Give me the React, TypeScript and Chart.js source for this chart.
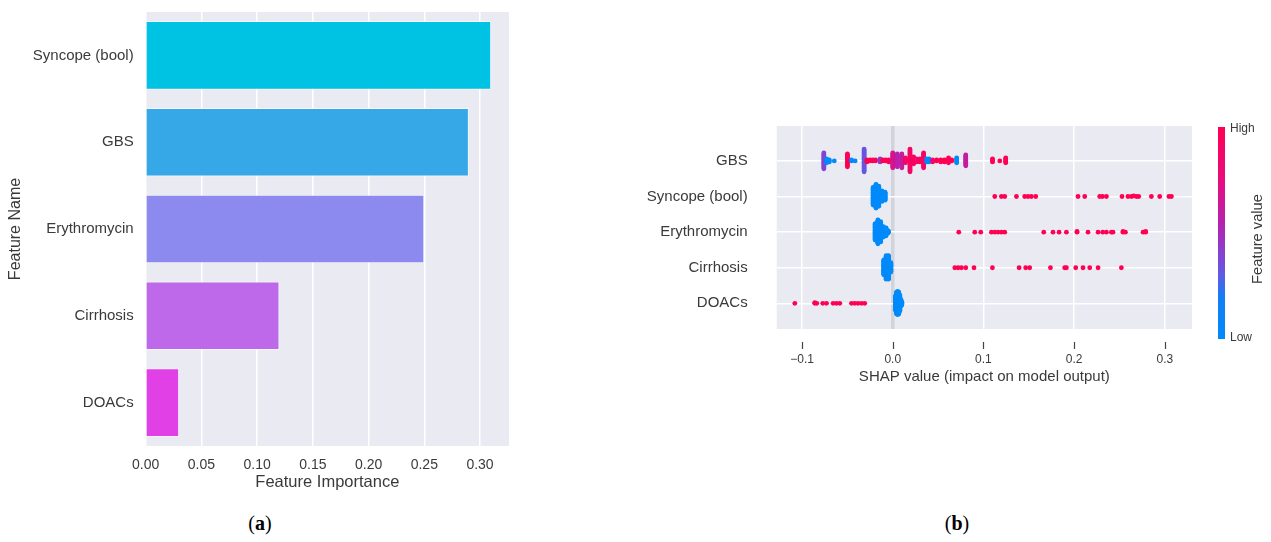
import { useEffect, useRef } from "react";
import { Chart, registerables } from "chart.js";

Chart.register(...registerables);

// ---- Panel (a): feature importance ----
const importanceFeatures = ["Syncope (bool)", "GBS", "Erythromycin", "Cirrhosis", "DOACs"];
const importanceValues = [0.31, 0.29, 0.25, 0.12, 0.03];
const importanceColors = ["#00C3E3", "#36A8E7", "#8C8AEE", "#BD69E9", "#E040E6"];
const importanceTicks = [0, 0.05, 0.1, 0.15, 0.2, 0.25, 0.3];

// ---- Panel (b): SHAP summary, rows listed bottom (0) to top (4) ----
const shapFeatures = ["DOACs", "Cirrhosis", "Erythromycin", "Syncope (bool)", "GBS"];
const shapTicks = [-0.1, 0, 0.1, 0.2, 0.3];

// Each entry: [SHAP value, number of samples, normalised feature value (0 low, 1 high)]
type Cluster = [number, number, number];

const gbsPoints: Cluster[] = [
  [-0.076, 17, 0.4], [-0.073, 5, 0.02], [-0.07, 3, 0.02], [-0.0645, 1, 0.02],
  [-0.05, 14, 0.98], [-0.0455, 2, 0.02], [-0.0415, 1, 0.02],
  [-0.0316, 24, 0.32], [-0.0285, 3, 1], [-0.025, 2, 1], [-0.022, 2, 1], [-0.019, 2, 0.95],
  [-0.014, 4, 0.45], [-0.011, 2, 1], [-0.0078, 2, 1], [-0.0045, 3, 0.95],
  [0.0, 16, 0.68], [0.005, 14, 0.55], [0.01, 15, 0.6], [0.014, 6, 0.9],
  [0.019, 24, 0.9], [0.023, 8, 0.95], [0.0265, 4, 0.85], [0.03, 4, 1],
  [0.034, 16, 0.88], [0.0375, 4, 0.02], [0.04, 4, 0.02], [0.044, 3, 0.85],
  [0.0485, 2, 1], [0.053, 3, 1], [0.057, 3, 1], [0.0615, 6, 1], [0.065, 2, 1],
  [0.0705, 6, 0.02], [0.0805, 12, 0.6],
  [0.11, 4, 1], [0.118, 1, 1], [0.1246, 6, 1],
];

const syncopePoints: Cluster[] = [
  [-0.0216, 30, 0], [-0.0185, 40, 0], [-0.0155, 34, 0], [-0.012, 18, 0], [-0.0085, 14, 0],
  [0.1125, 1, 1], [0.1198, 1, 1], [0.1235, 1, 1], [0.1364, 1, 1], [0.1455, 1, 1],
  [0.1492, 1, 1], [0.1529, 1, 1], [0.1577, 1, 1], [0.2043, 1, 1], [0.2117, 1, 1],
  [0.2282, 1, 1], [0.2312, 1, 1], [0.2356, 1, 1], [0.2528, 1, 1], [0.2594, 1, 1],
  [0.2632, 1, 1], [0.2657, 1, 1], [0.2687, 1, 1], [0.2712, 1, 1], [0.2852, 1, 1],
  [0.2944, 1, 1], [0.3046, 1, 1], [0.3073, 1, 1],
];

const erythromycinPoints: Cluster[] = [
  [-0.0194, 28, 0], [-0.0164, 40, 0], [-0.0134, 34, 0], [-0.0104, 18, 0], [-0.0074, 14, 0], [-0.0049, 4, 0],
  [0.0728, 1, 1], [0.0904, 1, 1], [0.097, 1, 1], [0.1088, 1, 1], [0.1125, 1, 1],
  [0.1161, 1, 1], [0.1198, 1, 1], [0.1235, 1, 1], [0.1665, 1, 1], [0.1767, 1, 1],
  [0.1834, 1, 1], [0.1915, 1, 1], [0.2032, 2, 1], [0.2153, 1, 1], [0.2264, 1, 1],
  [0.2315, 1, 1], [0.2356, 1, 1], [0.2411, 1, 1], [0.2429, 1, 1], [0.2539, 2, 1],
  [0.2566, 1, 1], [0.276, 1, 1], [0.2789, 2, 1],
];

const cirrhosisPoints: Cluster[] = [
  [-0.0099, 22, 0], [-0.0073, 34, 0], [-0.0047, 34, 0], [-0.0021, 14, 0],
  [0.0684, 1, 1], [0.072, 1, 1], [0.0757, 1, 1], [0.0805, 1, 1], [0.0896, 1, 1],
  [0.1099, 1, 1], [0.1393, 1, 1], [0.1466, 1, 1], [0.151, 1, 1], [0.1739, 1, 1],
  [0.1896, 1, 1], [0.1915, 1, 1], [0.2018, 1, 1], [0.2098, 1, 1], [0.2172, 1, 1],
  [0.2264, 1, 1], [0.2521, 1, 1],
];

const doacsPoints: Cluster[] = [
  [-0.108, 1, 1], [-0.086, 2, 1], [-0.0838, 1, 1], [-0.0772, 1, 1], [-0.0731, 1, 1],
  [-0.0658, 1, 1], [-0.0621, 1, 1], [-0.0584, 1, 1], [-0.0455, 1, 1], [-0.0419, 1, 1],
  [-0.0383, 1, 1], [-0.0345, 1, 1], [-0.0309, 1, 1],
  [0.003, 20, 0], [0.0042, 30, 0], [0.0054, 32, 0], [0.0066, 30, 0], [0.0078, 22, 0],
  [0.009, 10, 0], [0.01, 5, 0],
];

const shapRows: Cluster[][] = [doacsPoints, cirrhosisPoints, erythromycinPoints, syncopePoints, gbsPoints];

// ---- Styling ----
const FONT = "'Liberation Sans', Arial, Helvetica, sans-serif";
const TEXT = "#3a3a3a";
const PANEL_BG = "#EAEAF2";

// blue -> purple -> red colour map for feature values
const CMAP_STOPS: [number, [number, number, number]][] = [
  [0, [0, 138, 250]],
  [0.2, [20, 126, 245]],
  [0.3, [95, 90, 228]],
  [0.42, [140, 62, 205]],
  [0.56, [186, 32, 170]],
  [0.75, [232, 12, 125]],
  [1, [255, 0, 82]],
];

function featureColor(t: number): string {
  for (let i = 1; i < CMAP_STOPS.length; i++) {
    const [t1, c1] = CMAP_STOPS[i];
    const [t0, c0] = CMAP_STOPS[i - 1];
    if (t <= t1) {
      const f = (t - t0) / (t1 - t0 || 1);
      const c = c0.map((v, k) => Math.round(v + (c1[k] - v) * f));
      return `rgb(${c[0]},${c[1]},${c[2]})`;
    }
  }
  const c = CMAP_STOPS[CMAP_STOPS.length - 1][1];
  return `rgb(${c[0]},${c[1]},${c[2]})`;
}

// Beeswarm layout: quantise SHAP values into bins and stack samples alternately above/below the row
function beeswarm(clusters: Cluster[], row: number) {
  const pts: { x: number; c: number }[] = [];
  clusters.forEach(([x, n, c]) => {
    for (let i = 0; i < n; i++) pts.push({ x, c });
  });
  const xs = pts.map((p) => p.x);
  const lo = Math.min(...xs);
  const hi = Math.max(...xs);
  const nbins = 100;
  const quant = pts.map((p) => Math.round((nbins * (p.x - lo)) / (hi - lo + 1e-8)));
  const order = pts.map((_, i) => i).sort((a, b) => quant[a] - quant[b] || a - b);
  const ys = new Array(pts.length).fill(0);
  let layer = 0;
  let last = -1;
  for (const i of order) {
    if (quant[i] !== last) layer = 0;
    ys[i] = Math.ceil(layer / 2) * ((layer % 2) * 2 - 1);
    layer++;
    last = quant[i];
  }
  const maxY = Math.max(...ys.map((y) => y + 1));
  const k = (0.9 * 0.4) / maxY;
  return pts.map((p, i) => ({ x: p.x, y: row + ys[i] * k, c: p.c }));
}

// keep axis boxes at fixed sizes without extra label padding
function fixBox(size: { width?: number; height?: number }) {
  return (s: any) => {
    if (size.width !== undefined) s.width = size.width;
    if (size.height !== undefined) s.height = size.height;
    s.paddingTop = 0;
    s.paddingBottom = 0;
    s.paddingLeft = 0;
    s.paddingRight = 0;
  };
}

const panelBackground = {
  id: "panelBackground",
  beforeDraw(chart: any) {
    const { ctx, chartArea: a } = chart;
    ctx.save();
    ctx.fillStyle = PANEL_BG;
    ctx.fillRect(a.left, a.top, a.right - a.left, a.bottom - a.top);
    ctx.restore();
  },
};

const shapDecorations = {
  id: "shapDecorations",
  afterDraw(chart: any) {
    const { ctx, chartArea: a } = chart;
    const xScale = chart.scales.x;
    ctx.save();
    // x tick marks
    ctx.strokeStyle = "#444";
    ctx.lineWidth = 1.2;
    shapTicks.forEach((v) => {
      const px = Math.round(xScale.getPixelForValue(v)) + 0.5;
      ctx.beginPath();
      ctx.moveTo(px, a.bottom + 13);
      ctx.lineTo(px, a.bottom + 20);
      ctx.stroke();
    });
    // colour bar
    const barX = a.right + 26;
    const barW = 7;
    const barTop = a.top + 1;
    const barBottom = a.bottom + 10;
    const g = ctx.createLinearGradient(0, barBottom, 0, barTop);
    CMAP_STOPS.forEach(([t, c]) => g.addColorStop(t, `rgb(${c[0]},${c[1]},${c[2]})`));
    ctx.fillStyle = g;
    ctx.fillRect(barX, barTop, barW, barBottom - barTop);
    ctx.fillStyle = TEXT;
    ctx.font = `12px ${FONT}`;
    ctx.textAlign = "left";
    ctx.textBaseline = "middle";
    ctx.fillText("High", barX + 12, barTop + 2);
    ctx.fillText("Low", barX + 12, barBottom - 1);
    ctx.font = `14.7px ${FONT}`;
    ctx.translate(barX + 40, (barTop + barBottom) / 2 + 6);
    ctx.rotate(-Math.PI / 2);
    ctx.textAlign = "center";
    ctx.fillText("Feature value", 0, 0);
    ctx.restore();
  },
};

function ImportanceChart() {
  const ref = useRef<HTMLCanvasElement>(null);
  useEffect(() => {
    const chart = new Chart(ref.current!, {
      type: "bar",
      data: {
        labels: importanceFeatures,
        datasets: [
          {
            data: importanceValues,
            backgroundColor: importanceColors,
            borderColor: "rgba(255,255,255,0.55)",
            borderWidth: 1,
            barPercentage: 0.79,
            categoryPercentage: 1,
          },
        ],
      },
      options: {
        indexAxis: "y",
        responsive: false,
        animation: false,
        events: [],
        layout: { padding: { left: 0, top: 12, right: 11, bottom: 8 } },
        plugins: { legend: { display: false }, tooltip: { enabled: false } },
        scales: {
          x: {
            type: "linear",
            min: 0,
            max: 0.326,
            afterBuildTicks: (s: any) => {
              s.ticks = importanceTicks.map((v) => ({ value: v }));
            },
            afterFit: fixBox({ height: 46 }),
            ticks: {
              padding: 11,
              color: TEXT,
              font: { family: FONT, size: 14 },
              callback: (v: any) => Number(v).toFixed(2),
            },
            grid: { color: "#ffffff", lineWidth: 1.5, drawTicks: false },
            border: { display: false },
            title: {
              display: true,
              text: "Feature Importance",
              color: TEXT,
              font: { family: FONT, size: 16.5 },
              padding: 0,
            },
          },
          y: {
            type: "category",
            afterFit: fixBox({ width: 145.7 }),
            ticks: { padding: 12, color: TEXT, font: { family: FONT, size: 15 } },
            grid: { display: false, drawTicks: false },
            border: { display: false },
            title: {
              display: true,
              text: "Feature Name",
              color: TEXT,
              font: { family: FONT, size: 16 },
              padding: { top: 6, bottom: 0 },
            },
          },
        },
      },
      plugins: [panelBackground],
    });
    return () => chart.destroy();
  }, []);
  return (
    <canvas
      ref={ref}
      width={520}
      height={500}
      style={{ position: "absolute", left: 0, top: 0, width: 520, height: 500 }}
    />
  );
}

function ShapChart() {
  const ref = useRef<HTMLCanvasElement>(null);
  useEffect(() => {
    const datasets = shapRows.map((clusters, row) => {
      const pts = beeswarm(clusters, row);
      return {
        type: "scatter" as const,
        data: pts.map((p) => ({ x: p.x, y: p.y })),
        pointBackgroundColor: pts.map((p) => featureColor(p.c)),
        pointBorderWidth: 0,
        pointRadius: 2.4,
        showLine: false,
      };
    });
    const chart = new Chart(ref.current!, {
      type: "scatter",
      data: { datasets },
      options: {
        responsive: false,
        animation: false,
        events: [],
        layout: { padding: { left: 0, top: 26, right: 79, bottom: 14 } },
        plugins: { legend: { display: false }, tooltip: { enabled: false } },
        scales: {
          x: {
            type: "linear",
            min: -0.128,
            max: 0.33,
            afterBuildTicks: (s: any) => {
              s.ticks = shapTicks.map((v) => ({ value: v }));
            },
            afterFit: fixBox({ height: 57 }),
            ticks: {
              padding: 23,
              color: TEXT,
              font: { family: FONT, size: 12 },
              callback: (v: any) => {
                const n = Number(v);
                if (Math.abs(n) < 1e-9) return "0.0";
                return (n < 0 ? "\u2212" : "") + Math.abs(n).toFixed(1);
              },
            },
            grid: {
              color: (c: any) => (Math.abs(c.tick.value) < 1e-9 ? "#d3d3da" : "#ffffff"),
              lineWidth: (c: any) => (Math.abs(c.tick.value) < 1e-9 ? 3.5 : 1.5),
              drawTicks: false,
            },
            border: { display: false },
            title: {
              display: true,
              text: "SHAP value (impact on model output)",
              color: TEXT,
              font: { family: FONT, size: 15 },
              padding: 0,
            },
          },
          y: {
            type: "linear",
            min: -0.72,
            max: 4.98,
            afterBuildTicks: (s: any) => {
              s.ticks = [0, 1, 2, 3, 4].map((v) => ({ value: v }));
            },
            afterFit: fixBox({ width: 156.7 }),
            ticks: {
              padding: 29,
              color: TEXT,
              font: { family: FONT, size: 15 },
              callback: (v: any) => shapFeatures[Math.round(Number(v))] ?? "",
            },
            grid: { color: "#ffffff", lineWidth: 1.5, drawTicks: false },
            border: { display: false },
          },
        },
      },
      plugins: [panelBackground, shapDecorations],
    });
    return () => chart.destroy();
  }, []);
  return (
    <canvas
      ref={ref}
      width={651}
      height={300}
      style={{ position: "absolute", left: 620, top: 100, width: 651, height: 300 }}
    />
  );
}

const captionStyle: React.CSSProperties = {
  position: "absolute",
  top: 511,
  transform: "translateX(-50%)",
  fontFamily: "'Liberation Serif', 'DejaVu Serif', serif",
  fontSize: 20,
  lineHeight: "24px",
  color: "#000",
  whiteSpace: "nowrap",
};

export default function App() {
  return (
    <div
      style={{
        position: "absolute",
        left: 0,
        top: 0,
        width: 1271,
        height: 542,
        background: "#ffffff",
        overflow: "hidden",
      }}
    >
      <ImportanceChart />
      <ShapChart />
      <div style={{ ...captionStyle, left: 260 }}>
        (<b>a</b>)
      </div>
      <div style={{ ...captionStyle, left: 957 }}>
        (<b>b</b>)
      </div>
    </div>
  );
}
